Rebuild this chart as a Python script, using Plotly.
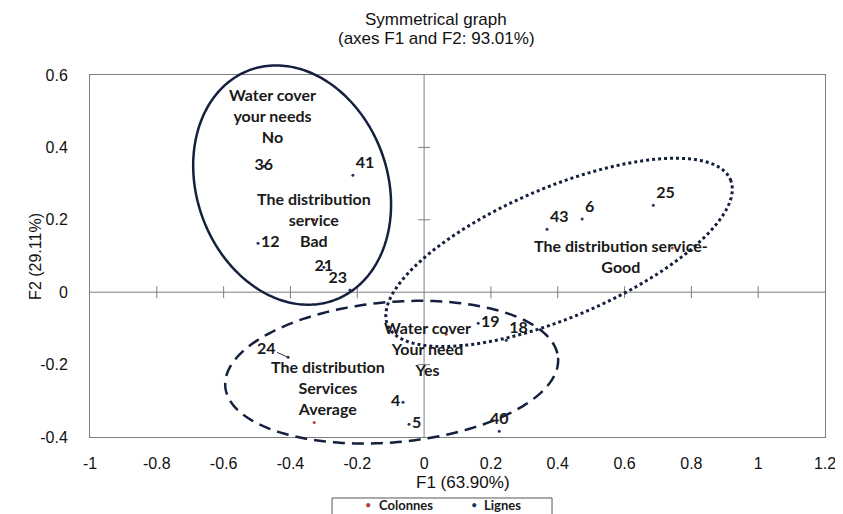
"""
Symmetrical correspondence-analysis map (F1 x F2) with grouped ellipses.
"""

import numpy as np
import plotly.graph_objects as go

# --- data ----------------------------------------------------------------
# row points ("Lignes")
row_labels = ["36", "41", "12", "21", "23", "43", "6", "25", "19", "18", "4", "5", "40", "24"]
row_f1 = [-0.48, -0.213, -0.497, -0.30, -0.222, 0.368, 0.473, 0.686, 0.162, 0.246, -0.063, -0.045, 0.225, -0.407]
row_f2 = [0.348, 0.323, 0.135, 0.069, 0.006, 0.174, 0.202, 0.240, -0.086, -0.133, -0.304, -0.365, -0.384, -0.18]

# column points ("Colonnes")
col_labels = [
    "Water cover<br>your needs<br>No",
    "The distribution<br>service<br>Bad",
    "Water cover<br>Your need<br>Yes",
    "The distribution<br>Services<br>Average",
    "The distribution service-<br>Good",
]
col_f1 = [-0.455, -0.33, 0.066, -0.329, 0.743]
col_f2 = [0.43, 0.20, -0.116, -0.36, 0.122]

# group ellipses: centre and two conjugate semi-axes (data units)
ell_center = [(-0.395, 0.296), (0.404, 0.110), (-0.097, -0.221)]
ell_u = [(0.126, -0.318), (0.513, 0.201), (0.498, 0.040)]
ell_v = [(0.268, 0.090), (0.076, -0.165), (0.018, -0.193)]
ell_dash = ["solid", "dot", "12px,7px"]

x_range = [-1, 1.2]
y_range = [-0.4, 0.6]
x_ticks = [-1, -0.8, -0.6, -0.4, -0.2, 0, 0.2, 0.4, 0.6, 0.8, 1, 1.2]
x_ticktext = ["-1", "-0.8", "-0.6", "-0.4", "-0.2", "0", "0.2", "0.4", "0.6", "0.8", "1", "1.2"]
y_ticks = [-0.4, -0.2, 0, 0.2, 0.4, 0.6]
y_ticktext = ["-0.4", "-0.2", "0", "0.2", "0.4", "0.6"]

legend_names = ["Colonnes", "Lignes"]

# --- styling ----------------------------------------------------------------
AXIS_FONT = "Liberation Sans, Arial, sans-serif"
LABEL_FONT = "Lato, Open Sans, sans-serif"
NAVY = "#15203f"
ROW_COLOR = "#1f3864"
COL_COLOR = "#b0413e"
label_font = dict(family=LABEL_FONT, size=16, color="#1a1a1a", weight="bold")

row_textpos = ["middle center", "top right", "middle right", "middle center", "top left",
               "top right", "top right", "top right", "middle right", "top right",
               "middle left", "middle right", "top center", "top left"]
col_shift = [(0, 21), (0, 0), (-19, -14), (14, 35), (-51, -8)]

fig = go.Figure()

fig.add_trace(go.Scatter(
    x=col_f1, y=col_f2, mode="markers", name=legend_names[0],
    marker=dict(color=COL_COLOR, size=3), showlegend=False,
))

row_text = [lab if lab != "24" else "" for lab in row_labels]
fig.add_trace(go.Scatter(
    x=row_f1, y=row_f2, mode="markers+text", name=legend_names[1],
    text=row_text, textposition=row_textpos,
    textfont=label_font,
    marker=dict(color=ROW_COLOR, size=3), showlegend=False,
))

# label 24 with its leader line
i24 = row_labels.index("24")
fig.add_annotation(
    x=row_f1[i24], y=row_f2[i24], text="24", showarrow=True,
    ax=-22, ay=-10, arrowhead=0, arrowwidth=1, arrowcolor="#333",
    font=label_font,
)

# column labels
for lab, x, y, (dx, dy) in zip(col_labels, col_f1, col_f2, col_shift):
    fig.add_annotation(
        x=x, y=y, text=lab, showarrow=False, xshift=dx, yshift=dy,
        font=label_font,
    )

# chart title and axis titles
fig.add_annotation(
    text="Symmetrical graph", xref="paper", yref="paper", x=0.471, y=1.152,
    showarrow=False, xanchor="center", yanchor="middle",
    font=dict(family=AXIS_FONT, size=17, color="#111"),
)
fig.add_annotation(
    text="(axes F1 and F2: 93.01%)", xref="paper", yref="paper", x=0.471, y=1.102,
    showarrow=False, xanchor="center", yanchor="middle",
    font=dict(family=AXIS_FONT, size=17, color="#111"),
)
fig.add_annotation(
    text="F1 (63.90%)", xref="paper", yref="paper", x=0.508, y=-0.127,
    showarrow=False, xanchor="center", yanchor="middle",
    font=dict(family=AXIS_FONT, size=17, color="#111"),
)
fig.add_annotation(
    text="F2 (29.11%)", xref="paper", yref="paper", x=-0.075, y=0.5,
    showarrow=False, xanchor="center", yanchor="middle", textangle=-90,
    font=dict(family=AXIS_FONT, size=16, color="#111"),
)

# legend box under the axis title (cut by the bottom edge, as in the original)
legend_font = dict(family=LABEL_FONT, size=13, color="#1a1a1a", weight="bold")
for name, color, dot_x, text_x in zip(legend_names, [COL_COLOR, ROW_COLOR],
                                      [0.378, 0.5224], [0.3905, 0.5333]):
    fig.add_annotation(text="•", xref="paper", yref="paper", x=dot_x, y=-0.1878,
                       showarrow=False, xanchor="center", yanchor="middle",
                       font=dict(family=LABEL_FONT, size=11, color=color))
    fig.add_annotation(text=name, xref="paper", yref="paper", x=text_x, y=-0.1878,
                       showarrow=False, xanchor="left", yanchor="middle",
                       font=legend_font)

# ellipses as paper-referenced paths so they may run past the frame
t = np.linspace(0, 2 * np.pi, 241)
shapes = [dict(type="rect", xref="paper", yref="paper", x0=0.3293, x1=0.6286,
               y0=-0.1685, y1=-0.26, line=dict(color="#555", width=1))]
for (cx, cy), (ux, uy), (vx, vy), dash in zip(ell_center, ell_u, ell_v, ell_dash):
    ex = cx + ux * np.cos(t) + vx * np.sin(t)
    ey = cy + uy * np.cos(t) + vy * np.sin(t)
    px = (ex - x_range[0]) / (x_range[1] - x_range[0])
    py = (ey - y_range[0]) / (y_range[1] - y_range[0])
    path = "M " + " L ".join(f"{a:.5f},{b:.5f}" for a, b in zip(px, py)) + " Z"
    shapes.append(dict(type="path", xref="paper", yref="paper", path=path,
                       line=dict(color=NAVY, width=3 if dash == "dot" else 2.5, dash=dash)))

# crossing axes through the origin with their tick marks
axis_grey = "#7f7f7f"
shapes += [
    dict(type="line", xref="x", yref="y", x0=x_range[0], x1=x_range[1], y0=0, y1=0,
         line=dict(color=axis_grey, width=1), layer="below"),
    dict(type="line", xref="x", yref="y", x0=0, x1=0, y0=y_range[0], y1=y_range[1],
         line=dict(color=axis_grey, width=1), layer="below"),
]
for xv in x_ticks[1:-1]:
    if xv == 0:
        continue
    shapes.append(dict(type="line", xref="x", yref="y", ysizemode="pixel", yanchor=0,
                       x0=xv, x1=xv, y0=-6, y1=6, layer="below",
                       line=dict(color=axis_grey, width=1)))
for yv in y_ticks[1:-1]:
    if yv == 0:
        continue
    shapes.append(dict(type="line", xref="x", yref="y", xsizemode="pixel", xanchor=0,
                       x0=-6, x1=6, y0=yv, y1=yv, layer="below",
                       line=dict(color=axis_grey, width=1)))

# page body keeps an 8px margin, so the figure is 8px smaller than the window
fig.update_layout(
    width=835, height=506,
    margin=dict(l=82, r=18, t=67, b=77, autoexpand=False),
    paper_bgcolor="white", plot_bgcolor="white",
    shapes=shapes,
    showlegend=False,
    font=dict(family=AXIS_FONT, color="#111"),
    xaxis=dict(range=x_range, tickvals=x_ticks, ticktext=x_ticktext,
               showgrid=False, zeroline=False, showline=True, mirror=True,
               linecolor=axis_grey, linewidth=1, automargin=False,
               ticks="outside", ticklen=12, tickcolor="rgba(0,0,0,0)",
               tickfont=dict(size=16)),
    yaxis=dict(range=y_range, tickvals=y_ticks, ticktext=y_ticktext,
               showgrid=False, zeroline=False, showline=True, mirror=True,
               linecolor=axis_grey, linewidth=1, automargin=False,
               ticks="outside", ticklen=18, tickcolor="rgba(0,0,0,0)",
               tickfont=dict(size=16)),
)

fig.write_html("out.html")
